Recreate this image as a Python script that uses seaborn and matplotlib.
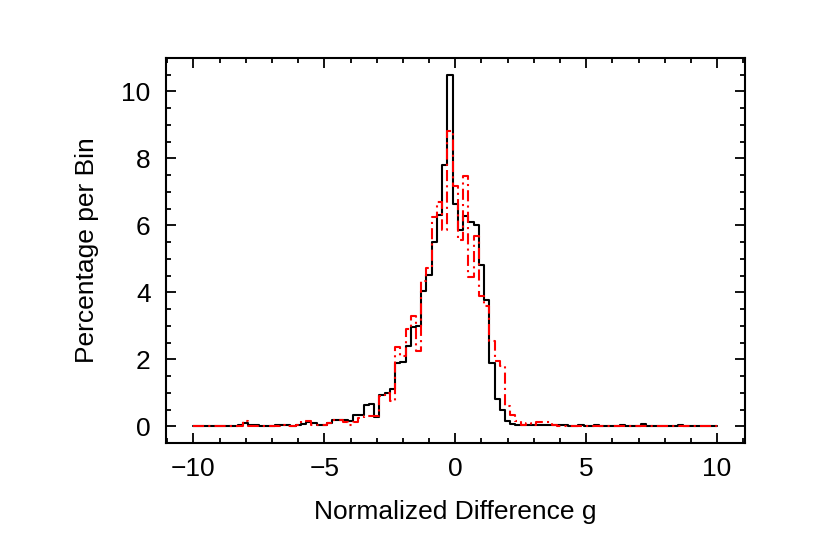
import matplotlib
matplotlib.use("Agg")
import matplotlib.pyplot as plt
import numpy as np
import seaborn as sns
from matplotlib.ticker import MultipleLocator

# bin centres of the histogram (width 0.2)
bin_centers = np.round(np.arange(-10.0, 10.01, 0.2), 1)

# percentage per bin
black_pct = [
    0, 0, 0, 0, 0, 0, 0, 0, 0, 0.03,            # -10.0 .. -8.2
    0.10, 0.05, 0.03, 0.02, 0.02, 0.02, 0.03, 0.05, 0.03, 0.02,   # -8.0 .. -6.2
    0.05, 0.06, 0.12, 0.10, 0.04, 0.03, 0.10, 0.20, 0.20, 0.20,   # -6.0 .. -4.2
    0.15, 0.33, 0.33, 0.63, 0.67, 0.28, 0.92, 1.00, 1.12, 1.88,   # -4.0 .. -2.2
    1.92, 2.40, 2.95, 3.00, 4.05, 4.52, 5.50, 6.30, 7.80, 10.48,  # -2.0 .. -0.2
    6.64,                                                          # 0.0
    5.87, 6.28, 6.11, 6.02, 4.82, 3.78, 1.90, 0.80, 0.50, 0.16,   # 0.2 .. 2.0
    0.08, 0.05, 0.04, 0.04, 0.03, 0.03, 0.03, 0.03, 0.03, 0.05,   # 2.2 .. 4.0
    0.03, 0.02, 0.02, 0.03, 0.02, 0.02, 0.03, 0.02, 0.02, 0.02,   # 4.2 .. 6.0
    0.02, 0.03, 0.02, 0.02, 0.02, 0.06, 0.02, 0.02, 0.02, 0.02,   # 6.2 .. 8.0
    0.02, 0.02, 0.03, 0.02, 0.02, 0.02, 0.02, 0.02, 0.01, 0,      # 8.2 .. 10.0
]

red_pct = [
    0, 0, 0, 0, 0, 0, 0, 0, 0, 0,               # -10.0 .. -8.2
    0.16, 0.02, 0.02, 0.02, 0.02, 0.02, 0.02, 0.03, 0.02, 0.02,   # -8.0 .. -6.2
    0.03, 0.16, 0.16, 0.05, 0.03, 0.03, 0.11, 0.19, 0.18, 0.12,   # -6.0 .. -4.2
    0.05, 0.13, 0.26, 0.30, 0.30, 0.30, 0.90, 0.98, 0.75, 2.38,   # -4.0 .. -2.2
    2.10, 2.90, 3.30, 2.25, 4.35, 4.72, 6.25, 6.70, 5.85, 8.82,   # -2.0 .. -0.2
    7.17,                                                          # 0.0
    5.57, 7.47, 4.47, 5.68, 3.88, 3.58, 2.54, 1.94, 1.80, 0.60,   # 0.2 .. 2.0
    0.33, 0.16, 0.04, 0.10, 0.04, 0.14, 0.14, 0.12, 0.03, 0.02,   # 2.2 .. 4.0
    0.02, 0.02, 0.02, 0.02, 0.02, 0.02, 0.02, 0.02, 0.02, 0.02,   # 4.2 .. 6.0
    0.02, 0.02, 0.02, 0.02, 0.02, 0.02, 0.02, 0.02, 0.02, 0.02,   # 6.2 .. 8.0
    0.02, 0.02, 0.02, 0.02, 0.02, 0.02, 0.02, 0.02, 0.01, 0,      # 8.2 .. 10.0
]

x_ticks = [-10, -5, 0, 5, 10]
y_ticks = [0, 2, 4, 6, 8, 10]


def main():
    sns.set_theme(style="ticks")
    plt.rcParams["font.family"] = ["Liberation Sans", "DejaVu Sans"]
    plt.rcParams["text.color"] = "black"
    plt.rcParams["axes.labelcolor"] = "black"
    plt.rcParams["xtick.color"] = "black"
    plt.rcParams["ytick.color"] = "black"
    plt.rcParams["lines.scale_dashes"] = False

    fig = plt.figure(figsize=(8.3, 5.55), dpi=100)
    ax = fig.add_axes([0.2, 0.2018, 0.698, 0.6937])

    sns.lineplot(x=bin_centers, y=black_pct, ax=ax, color="black",
                 linewidth=1.5, drawstyle="steps-mid")
    sns.lineplot(x=bin_centers, y=red_pct, ax=ax, color="red",
                 linewidth=1.5, drawstyle="steps-mid",
                 linestyle=(0, (8, 3, 1.5, 3)))

    ax.set_xlim(-11.05, 11.08)
    ax.set_ylim(-0.5, 11)
    ax.set_xticks(x_ticks)
    ax.set_yticks(y_ticks)
    ax.xaxis.set_minor_locator(MultipleLocator(1))
    ax.yaxis.set_minor_locator(MultipleLocator(0.5))
    ax.tick_params(which="both", direction="in", top=True, right=True,
                   width=1.3, labelsize=19)
    ax.tick_params(which="major", length=7.2)
    ax.tick_params(which="minor", length=3.6)
    ax.tick_params(axis="x", which="major", pad=10)
    ax.tick_params(axis="y", which="major", pad=11)
    for sp in ax.spines.values():
        sp.set_linewidth(1.5)
        sp.set_color("black")

    ax.set_xlabel("Normalized Difference g", fontsize=19, labelpad=14)
    ax.set_ylabel("Percentage per Bin", fontsize=19, labelpad=16)

    fig.savefig("out.png", dpi=100)
    plt.close(fig)


if __name__ == "__main__":
    main()
